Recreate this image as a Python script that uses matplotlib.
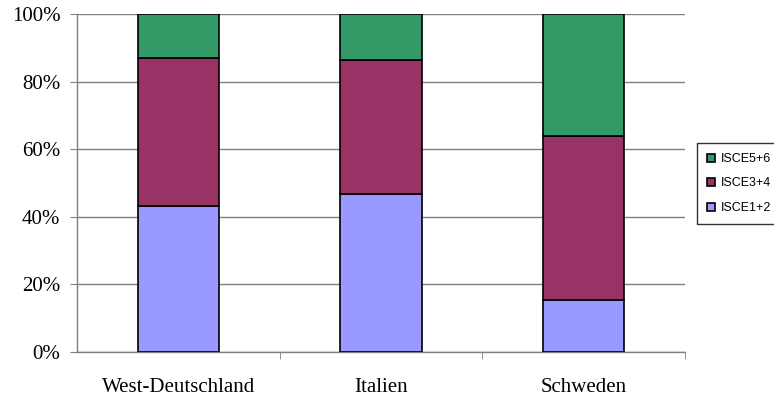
import matplotlib.pyplot as plt
import numpy as np

laender = ['West-Deutschland', 'Italien', 'Schweden']
isce12 = [43.2, 46.7, 15.4]
isce34 = [43.8, 39.7, 48.5]
isce56 = [13.0, 13.6, 36.1]

farben = {'ISCE1+2': '#9999FF', 'ISCE3+4': '#993366', 'ISCE5+6': '#339966'}

fig = plt.figure(figsize=(7.74, 3.97), dpi=100)
ax = fig.add_axes([77/774, 1-352/397, 608/774, 338/397])

x = np.arange(len(laender))
b1 = ax.bar(x, isce12, width=0.4, color=farben['ISCE1+2'], edgecolor='black', linewidth=1.2, label='ISCE1+2', zorder=3)
unten = np.array(isce12)
b2 = ax.bar(x, isce34, width=0.4, bottom=unten, color=farben['ISCE3+4'], edgecolor='black', linewidth=1.2, label='ISCE3+4', zorder=3)
unten = unten + np.array(isce34)
b3 = ax.bar(x, isce56, width=0.4, bottom=unten, color=farben['ISCE5+6'], edgecolor='black', linewidth=1.2, label='ISCE5+6', zorder=3)

ax.set_xlim(-0.5, 2.5)
ax.set_ylim(0, 100)
ax.set_yticks([0, 20, 40, 60, 80, 100])
ax.set_yticklabels(['0%', '20%', '40%', '60%', '80%', '100%'], family='Liberation Serif', fontsize=15)
ax.set_xticks(x)
ax.set_xticklabels(laender, family='Liberation Serif', fontsize=15)
ax.tick_params(axis='x', length=0, pad=19)
ax.set_xticks([0.5, 1.5, 2.5], minor=True)
ax.tick_params(axis='x', which='minor', length=5, direction='out', color='#808080')
ax.tick_params(axis='y', length=5, direction='out', color='#808080', pad=7)
ax.yaxis.grid(True, color='#808080', linewidth=1, zorder=0)

for s in ['top', 'right']:
    ax.spines[s].set_visible(False)
for s in ['left', 'bottom']:
    ax.spines[s].set_color('#808080')
    ax.spines[s].set_linewidth(1)

leg = fig.legend(handles=[b3, b2, b1], labels=['ISCE5+6', 'ISCE3+4', 'ISCE1+2'],
                 loc='upper left', bbox_to_anchor=(697/774, 1-143/397),
                 prop={'family': 'Liberation Sans', 'size': 9},
                 frameon=True, fancybox=False, edgecolor='black',
                 handlelength=0.6, handleheight=0.6, handletextpad=0.55,
                 labelspacing=1.0, borderpad=0.8, borderaxespad=0)
leg.get_frame().set_linewidth(1)

fig.savefig('out.png', dpi=100)
